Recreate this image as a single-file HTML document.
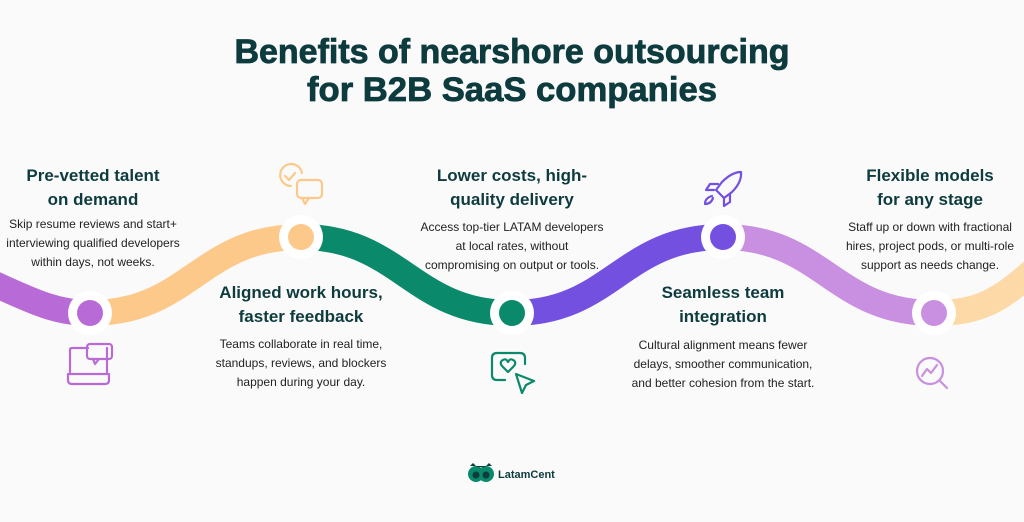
<!DOCTYPE html>
<html><head><meta charset="utf-8"><style>
html,body{margin:0;padding:0;background:#fafafa;}
svg{display:block}
.h{font-family:"Liberation Sans",sans-serif;font-weight:bold;fill:#0d3b3e;font-size:17px;text-anchor:middle}
.b{font-family:"Liberation Sans",sans-serif;fill:#222;font-size:12px;text-anchor:middle}
.t{font-family:"Liberation Sans",sans-serif;font-weight:bold;fill:#0d3b3e;font-size:34px;text-anchor:middle;stroke:#0d3b3e;stroke-width:0.8}
</style></head><body>
<svg width="1024" height="522" viewBox="0 0 1024 522" xmlns="http://www.w3.org/2000/svg">
<rect width="1024" height="522" fill="#fafafa"/>
<text class="t" x="512" y="63" textLength="555" lengthAdjust="spacingAndGlyphs">Benefits of nearshore outsourcing</text>
<text class="t" x="512" y="101" textLength="410" lengthAdjust="spacingAndGlyphs">for B2B SaaS companies</text>

<g fill="none" stroke-width="26">
<path d="M-10 282 C30 300 55 313 90 313" stroke="#b86ad6"/>
<path d="M90 313 C190 313 200 237 301 237" stroke="#fdc98a"/>
<path d="M301 237 C400 237 412 313 512 313" stroke="#0a8a6a"/>
<path d="M512 313 C612 313 622 237 723 237" stroke="#7350e0"/>
<path d="M723 237 C822 237 834 313 934 313" stroke="#c98fe0"/>
<path d="M934 313 C980 313 1000 300 1034 270" stroke="#fdd9a8"/>
</g>
<g>
<circle cx="90" cy="313" r="22" fill="#fff"/><circle cx="90" cy="313" r="13" fill="#b86ad6"/>
<circle cx="301" cy="237" r="22" fill="#fff"/><circle cx="301" cy="237" r="13" fill="#fdc98a"/>
<circle cx="512" cy="313" r="22" fill="#fff"/><circle cx="512" cy="313" r="13" fill="#0a8a6a"/>
<circle cx="723" cy="237" r="22" fill="#fff"/><circle cx="723" cy="237" r="13" fill="#7350e0"/>
<circle cx="934" cy="313" r="22" fill="#fff"/><circle cx="934" cy="313" r="13" fill="#c98fe0"/>
</g>

<text class="h" x="93" y="181">Pre-vetted talent</text>
<text class="h" x="93" y="205">on demand</text>
<text class="b" x="93" y="228">Skip resume reviews and start+</text>
<text class="b" x="93" y="247">interviewing qualified developers</text>
<text class="b" x="93" y="266">within days, not weeks.</text>

<text class="h" x="301" y="298">Aligned work hours,</text>
<text class="h" x="301" y="322">faster feedback</text>
<text class="b" x="301" y="348">Teams collaborate in real time,</text>
<text class="b" x="301" y="367">standups, reviews, and blockers</text>
<text class="b" x="301" y="386">happen during your day.</text>

<text class="h" x="512" y="181">Lower costs, high-</text>
<text class="h" x="512" y="205">quality delivery</text>
<text class="b" x="512" y="231">Access top-tier LATAM developers</text>
<text class="b" x="512" y="250">at local rates, without</text>
<text class="b" x="512" y="269">compromising on output or tools.</text>

<text class="h" x="723" y="298">Seamless team</text>
<text class="h" x="723" y="322">integration</text>
<text class="b" x="723" y="349">Cultural alignment means fewer</text>
<text class="b" x="723" y="368">delays, smoother communication,</text>
<text class="b" x="723" y="387">and better cohesion from the start.</text>

<text class="h" x="930" y="181">Flexible models</text>
<text class="h" x="930" y="205">for any stage</text>
<text class="b" x="930" y="231">Staff up or down with fractional</text>
<text class="b" x="930" y="250">hires, project pods, or multi-role</text>
<text class="b" x="930" y="269">support as needs change.</text>

<g fill="none" stroke-width="2.2" stroke-linecap="round" stroke-linejoin="round">
<g stroke="#b86ad6">
<path d="M88 348 H72 Q70 348 70 350 V372"/>
<path d="M107 348 V372"/>
<path d="M68 374 H109 V380 Q109 384 105 384 H72 Q68 384 68 380 Z"/>
<rect x="87" y="344" width="25" height="15" rx="3"/>
<path d="M93 359 L95 364 L99 359"/>
</g>
<g stroke="#fdc98a">
<path d="M302 173 A11 11 0 1 0 291 186"/>
<path d="M285 176 L289 180 L295 173"/>
<rect x="297" y="180" width="25" height="18" rx="4"/>
<path d="M302 198 L305 204 L309 198"/>
</g>
<g stroke="#0a8a6a">
<path d="M505 380 H497 Q492 380 492 375 V358 Q492 353 497 353 H520 Q525 353 525 358 V364"/>
<path d="M508 372 L502 366 Q499 362 503 360 Q506 358 508 362 Q510 358 513 360 Q517 362 514 366 Z"/>
<path d="M516 374 L534 381 L526 385 L522 393 Z"/>
</g>
<g stroke="#7350e0">
<path d="M741 172 Q732 172 722 182 L716 190 L724 198 L732 192 Q742 182 741 172 Z"/>
<path d="M718 184 L710 184 L706 190 L714 190"/>
<path d="M730 194 L730 202 L724 206 L724 198"/>
<path d="M712 196 Q705 198 705 204 Q711 204 713 198"/>
</g>
<g stroke="#c98fe0">
<circle cx="930" cy="371" r="13"/>
<path d="M940 381 L947 388"/>
<path d="M922 376 L927 369 L931 373 L937 365"/>
</g>
</g>

<g>
<circle cx="476" cy="474" r="8" fill="#0a8a6a"/>
<circle cx="486" cy="474" r="8" fill="#0a8a6a"/>
<path d="M470 466 L473 463 L477 467 L485 467 L489 463 L492 466 Z" fill="#0d3b3e"/>
<circle cx="476" cy="475" r="3.5" fill="#0d3b3e"/>
<circle cx="486" cy="475" r="3.5" fill="#0d3b3e"/>
<text x="498" y="478" font-family="Liberation Sans,sans-serif" font-weight="bold" font-size="11" fill="#0d3b3e">LatamCent</text>
</g>
</svg>
</body></html>
